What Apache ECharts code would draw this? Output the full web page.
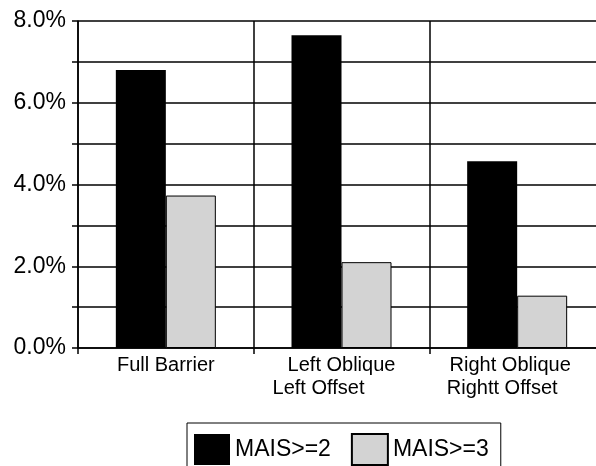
<!DOCTYPE html>
<html>
<head>
<meta charset="utf-8">
<script src="https://cdn.jsdelivr.net/npm/echarts@6/dist/echarts.min.js"></script>
<style>
  html, body { margin: 0; padding: 0; background: #fff; }
  #chart { width: 596px; height: 466px; }
</style>
</head>
<body>
<div id="chart"></div>
<script>
// categories (two-line labels split by \n)
const categories = ['Full Barrier', 'Left Oblique\nLeft Offset', 'Right Oblique\nRightt Offset'];
// rich style keys per label line
const labelStyles = [['c1'], ['c2a', 'c2b'], ['c3a', 'c3b']];

// percent values
const mais2 = [6.8, 7.65, 4.57];
const mais3 = [3.73, 2.1, 1.28];

// y tick labels (every 2%)
const yTickLabels = ['0.0%', '2.0%', '4.0%', '6.0%', '8.0%'];

const font = '"Liberation Sans", Arial, sans-serif';

const chart = echarts.init(document.getElementById('chart'));

const option = {
    animation: false,
    grid: {
        left: 78,
        top: 21,
        width: 527,
        bottom: 118,
        outerBoundsMode: 'none', // plot runs past the right edge like the scan
        containLabel: false
    },
    legend: {
        left: 187,
        top: 423,
        icon: 'rect',
        itemWidth: 36,
        itemHeight: 31,
        itemGap: 20,
        padding: [10, 12, 10, 7],
        borderColor: '#000',
        borderWidth: 1,
        textStyle: {
            fontFamily: font,
            fontSize: 23,
            color: '#000'
        },
        data: ['MAIS>=2', 'MAIS>=3']
    },
    xAxis: {
        type: 'category',
        data: categories,
        axisLine: { lineStyle: { color: '#000', width: 1.5 } },
        axisTick: { show: true, length: 6, lineStyle: { color: '#000', width: 1.5 } },
        splitLine: { show: true, lineStyle: { color: '#000', width: 1.5 } },
        axisLabel: {
            interval: 0,
            margin: 6,
            color: '#000',
            fontFamily: font,
            fontSize: 20,
            lineHeight: 23,
            formatter: (v, i) => v.split('\n').map((s, k) => '{' + labelStyles[i][k] + '|' + s + '}').join('\n'),
            rich: {
                c1: { fontFamily: font, fontSize: 20, lineHeight: 23 },
                c2a: { fontFamily: font, fontSize: 20, lineHeight: 23 },
                c2b: { fontFamily: font, fontSize: 20, lineHeight: 23, padding: [0, 46, 0, 0] },
                c3a: { fontFamily: font, fontSize: 20, lineHeight: 23, padding: [0, 14, 0, 0] },
                c3b: { fontFamily: font, fontSize: 20, lineHeight: 23, padding: [0, 30, 0, 0] }
            }
        }
    },
    yAxis: {
        type: 'value',
        min: 0,
        max: 8,
        interval: 1,
        axisLine: { show: true, lineStyle: { color: '#000', width: 1.5 } },
        axisTick: { show: true, length: 6, lineStyle: { color: '#000', width: 1.5 } },
        splitLine: { show: true, lineStyle: { color: '#000', width: 1.5 } },
        axisLabel: {
            margin: 12,
            color: '#000',
            fontFamily: font,
            fontSize: 23,
            formatter: v => (v % 2 === 0 ? yTickLabels[v / 2] : '')
        }
    },
    series: [
        {
            name: 'MAIS>=2',
            type: 'bar',
            data: mais2,
            barWidth: 50,
            barGap: '0%',
            itemStyle: { color: '#000' }
        },
        {
            name: 'MAIS>=3',
            type: 'bar',
            data: mais3,
            barWidth: 50,
            itemStyle: { color: '#d3d3d3', borderColor: '#000', borderWidth: 1 }
        }
    ]
};

chart.setOption(option);
</script>
</body>
</html>
